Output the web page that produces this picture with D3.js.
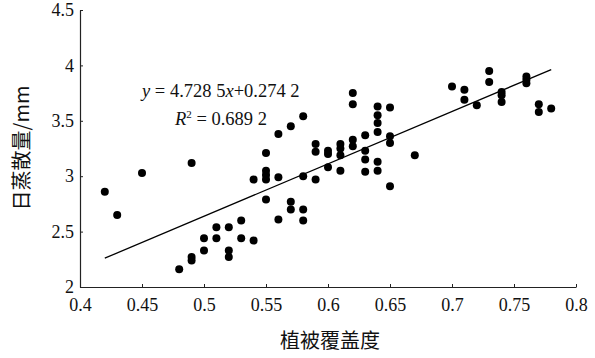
<!DOCTYPE html>
<html>
<head>
<meta charset="utf-8">
<script src="https://cdn.jsdelivr.net/npm/d3@7"></script>
<style>
  html, body { margin: 0; padding: 0; background: #ffffff; }
  svg { display: block; }
</style>
</head>
<body>
<script>
// ---- data ----
const coverage = [
  0.42, 0.43, 0.45, 0.49, 0.48, 0.49, 0.49, 0.50, 0.50, 0.51,
  0.51, 0.52, 0.52, 0.52, 0.53, 0.53, 0.54, 0.54, 0.55, 0.55,
  0.55, 0.55, 0.55, 0.56, 0.56, 0.56, 0.57, 0.57, 0.57, 0.58,
  0.58, 0.58, 0.58, 0.59, 0.59, 0.59, 0.60, 0.60, 0.60, 0.61,
  0.61, 0.61, 0.61, 0.62, 0.62, 0.62, 0.62, 0.63, 0.63, 0.63,
  0.63, 0.64, 0.64, 0.64, 0.64, 0.64, 0.64, 0.65, 0.65, 0.65,
  0.65, 0.67, 0.70, 0.71, 0.71, 0.72, 0.73, 0.73, 0.74, 0.74,
  0.74, 0.76, 0.76, 0.76, 0.77, 0.77, 0.78
];
const evapotranspiration = [
  2.86, 2.65, 3.03, 3.12, 2.16, 2.27, 2.24, 2.33, 2.44, 2.44,
  2.54, 2.54, 2.33, 2.27, 2.60, 2.44, 2.42, 2.97, 3.21, 3.05,
  3.01, 2.97, 2.79, 3.38, 2.99, 2.61, 3.45, 2.77, 2.70, 3.54,
  3.00, 2.70, 2.60, 3.29, 3.22, 2.97, 3.23, 3.20, 3.08, 3.29,
  3.25, 3.19, 3.05, 3.75, 3.65, 3.33, 3.27, 3.37, 3.23, 3.15,
  3.04, 3.63, 3.55, 3.48, 3.40, 3.13, 3.05, 3.62, 3.36, 3.30,
  2.91, 3.19, 3.81, 3.78, 3.69, 3.64, 3.95, 3.85, 3.76, 3.73,
  3.67, 3.90, 3.87, 3.84, 3.65, 3.58, 3.61
];
const xTicks = [0.4, 0.45, 0.5, 0.55, 0.6, 0.65, 0.7, 0.75, 0.8];
const xTickLabels = ["0.4", "0.45", "0.5", "0.55", "0.6", "0.65", "0.7", "0.75", "0.8"];
const yTicks = [2, 2.5, 3, 3.5, 4, 4.5];
const yTickLabels = ["2", "2.5", "3", "3.5", "4", "4.5"];
const fitSlope = 4.7285;
const fitIntercept = 0.2742;
const fitRange = [0.42, 0.78];
const equationText = ["y", " = 4.728 5", "x", "+0.274 2"];
const r2Text = "0.689 2";
const xTitle = "植被覆盖度";
const yTitle = "日蒸散量/mm";

// ---- drawing ----
const W = 595, H = 358;
const svg = d3.select("body").append("svg").attr("width", W).attr("height", H);
svg.append("rect").attr("width", W).attr("height", H).attr("fill", "#ffffff");

const x = d3.scaleLinear().domain([0.4, 0.8]).range([80, 576]);
const y = d3.scaleLinear().domain([2, 4.5]).range([287, 10]);

const serif = "'Liberation Serif', 'Times New Roman', serif";
const cjk = "'Noto Sans CJK SC', sans-serif";

const xAxis = d3.axisBottom(x).tickValues(xTicks)
  .tickFormat((d, i) => xTickLabels[i]).tickSizeInner(-3).tickSizeOuter(0).tickPadding(11);
const yAxis = d3.axisLeft(y).tickValues(yTicks)
  .tickFormat((d, i) => yTickLabels[i]).tickSizeInner(-3).tickSizeOuter(0).tickPadding(6);

const gx = svg.append("g").attr("transform", `translate(0,${y(2)})`).call(xAxis);
const gy = svg.append("g").attr("transform", `translate(${x(0.4)},0)`).call(yAxis);
[gx, gy].forEach(g => {
  g.attr("font-family", null).attr("font-size", null);
  g.select(".domain").attr("stroke", "#222").attr("stroke-width", 1.2);
  g.selectAll(".tick line").attr("stroke", "#222").attr("stroke-width", 1);
  g.selectAll(".tick text").attr("fill", "#111")
    .style("font-family", serif).style("font-size", "18px");
});

// points
svg.append("g").selectAll("circle")
  .data(coverage.map((c, i) => [c, evapotranspiration[i]]))
  .join("circle")
  .attr("cx", d => x(d[0]))
  .attr("cy", d => y(d[1]))
  .attr("r", 4)
  .attr("fill", "#000");

// fit line
svg.append("line")
  .attr("x1", x(fitRange[0])).attr("y1", y(fitSlope * fitRange[0] + fitIntercept))
  .attr("x2", x(fitRange[1])).attr("y2", y(fitSlope * fitRange[1] + fitIntercept))
  .attr("stroke", "#000").attr("stroke-width", 1.3);

// equation
const eq = svg.append("text").attr("x", 142).attr("y", 97)
  .style("font-family", serif).style("font-size", "18.5px").attr("fill", "#111")
  .style("white-space", "pre");
eq.append("tspan").style("font-style", "italic").text(equationText[0]);
eq.append("tspan").text(equationText[1]);
eq.append("tspan").style("font-style", "italic").text(equationText[2]);
eq.append("tspan").text(equationText[3]);

const r2 = svg.append("text").attr("x", 175).attr("y", 125)
  .style("font-family", serif).style("font-size", "18.5px").attr("fill", "#111")
  .style("white-space", "pre");
r2.append("tspan").style("font-style", "italic").text("R");
r2.append("tspan").attr("dy", -7).style("font-size", "11px").text("2");
r2.append("tspan").attr("dy", 7).text(" = " + r2Text);

// axis titles
svg.append("text").attr("x", 330).attr("y", 348).attr("text-anchor", "middle")
  .style("font-family", cjk).style("font-size", "20px").attr("fill", "#111").text(xTitle);
svg.append("text").attr("transform", "translate(29,148) rotate(-90)").attr("text-anchor", "middle")
  .style("font-family", cjk).style("font-size", "20px").attr("fill", "#111").text(yTitle);
</script>
</body>
</html>
